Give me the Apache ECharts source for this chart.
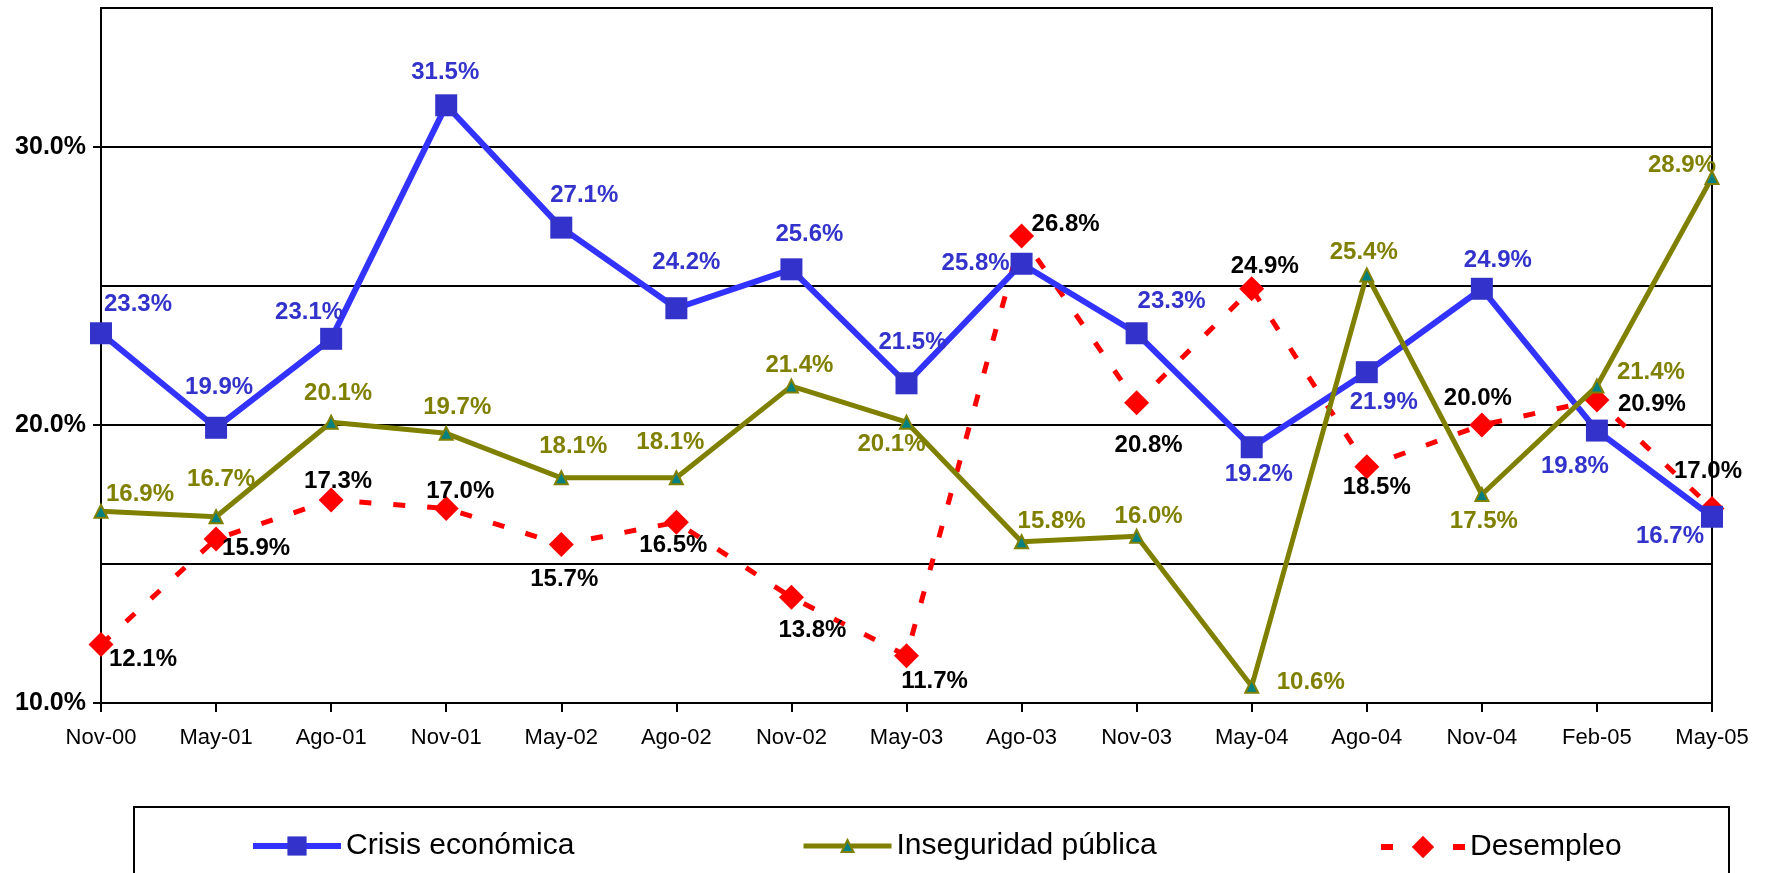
<!DOCTYPE html>
<html>
<head>
<meta charset="utf-8">
<script src="https://cdn.jsdelivr.net/npm/echarts@6/dist/echarts.min.js"></script>
<style>
  html, body { margin: 0; padding: 0; background: #fff; }
  #chart { width: 1771px; height: 873px; }
</style>
</head>
<body>
<div id="chart"></div>
<script>
var categories = ['Nov-00', 'May-01', 'Ago-01', 'Nov-01', 'May-02', 'Ago-02', 'Nov-02', 'May-03',
    'Ago-03', 'Nov-03', 'May-04', 'Ago-04', 'Nov-04', 'Feb-05', 'May-05'];
var crisis = [23.3, 19.9, 23.1, 31.5, 27.1, 24.2, 25.6, 21.5, 25.8, 23.3, 19.2, 21.9, 24.9, 19.8, 16.7];
var inseguridad = [16.9, 16.7, 20.1, 19.7, 18.1, 18.1, 21.4, 20.1, 15.8, 16.0, 10.6, 25.4, 17.5, 21.4, 28.9];
var desempleo = [12.1, 15.9, 17.3, 17.0, 15.7, 16.5, 13.8, 11.7, 26.8, 20.8, 24.9, 18.5, 20.0, 20.9, 17.0];
var yTickLabels = [10, 20, 30];

// where each data label sits relative to its point (px)
var crisisOff = [[37, -29], [3, -40], [-22, -26], [-1, -33], [23, -32], [10, -46], [18, -35], [6, -41],
    [-46, 0], [35, -32], [7, 27], [17, 30], [16, -28], [-22, 36], [-42, 20]];
var insegOff = [[39, -17], [5, -37], [7, -29], [11, -26], [12, -31], [-6, -35], [8, -21], [-15, 22],
    [30, -20], [12, -20], [59, -4], [-3, -23], [2, 27], [54, -14], [-30, -12]];
var desOff = [[42, 15], [40, 9], [7, -19], [14, -17], [3, 35], [-3, 23], [21, 33], [28, 26],
    [44, -12], [12, 43], [13, -22], [10, 21], [-4, -27], [55, 4], [-4, -37]];

var FONT = '"Liberation Sans", Arial, sans-serif';

function withLabels(values, offsets) {
    return values.map(function (v, i) {
        return { value: v, label: { offset: offsets[i] } };
    });
}

function pct(p) {
    return p.value.toFixed(1) + '%';
}

var chart = echarts.init(document.getElementById('chart'), null, { renderer: 'canvas' });

var legendBase = {
    top: 826,
    z: 10,
    itemWidth: 88,
    itemHeight: 24,
    textStyle: { fontFamily: FONT, fontSize: 30, color: '#000' }
};

var option = {
    backgroundColor: '#fff',
    animation: false,
    textStyle: { fontFamily: FONT },
    grid: {
        left: 101,
        right: 59,
        top: 8,
        bottom: 170,
        show: true,
        borderColor: '#000',
        borderWidth: 2
    },
    graphic: [{
        type: 'rect',
        z: 0,
        shape: { x: 134, y: 807, width: 1595, height: 120 },
        style: { fill: '#fff', stroke: '#000', lineWidth: 2 }
    }],
    legend: [
        Object.assign({}, legendBase, {
            data: ['Crisis económica'], left: 245,
            lineStyle: { width: 6 }
        }),
        Object.assign({}, legendBase, {
            data: ['Inseguridad pública'], left: 796, itemHeight: 15,
            lineStyle: { width: 5 }
        }),
        Object.assign({}, legendBase, {
            data: ['Desempleo'], left: 1373, top: 827, itemWidth: 84, itemHeight: 28,
            lineStyle: { width: 6, type: [12, 60] }
        })
    ],
    xAxis: {
        type: 'category',
        data: categories,
        boundaryGap: false,
        axisLine: { lineStyle: { color: '#000', width: 2 } },
        axisTick: { show: true, length: 9, lineStyle: { color: '#000', width: 2 } },
        axisLabel: { color: '#000', fontSize: 22, margin: 24, fontFamily: FONT }
    },
    yAxis: [
        {
            type: 'value',
            min: 10,
            max: 35,
            interval: 5,
            axisLine: { show: true, lineStyle: { color: '#000', width: 2 } },
            axisTick: { show: false },
            axisLabel: {
                color: '#000', fontSize: 25, fontWeight: 'bold', margin: 15, fontFamily: FONT,
                formatter: function (v) {
                    return yTickLabels.indexOf(v) >= 0 ? v.toFixed(1) + '%' : '';
                }
            },
            splitLine: { show: true, lineStyle: { color: '#000', width: 2 } }
        },
        {
            // tick marks only at the labelled values
            type: 'value',
            position: 'left',
            min: 10,
            max: 35,
            interval: 5,
            axisLine: { show: false },
            axisTick: { show: true, length: 8, customValues: yTickLabels, lineStyle: { color: '#000', width: 2 } },
            axisLabel: { show: false },
            splitLine: { show: false }
        }
    ],
    series: [
        {
            name: 'Crisis económica',
            type: 'line',
            data: withLabels(crisis, crisisOff),
            symbol: 'rect',
            symbolSize: 22,
            lineStyle: { color: '#3333FF', width: 6 },
            itemStyle: { color: '#3333CC' },
            label: {
                show: true, position: 'inside', color: '#3333CC', fontSize: 24, fontWeight: 'bold',
                fontFamily: FONT, formatter: pct
            },
            z: 3
        },
        {
            name: 'Inseguridad pública',
            type: 'line',
            data: withLabels(inseguridad, insegOff),
            symbol: 'triangle',
            symbolSize: 13,
            lineStyle: { color: '#808000', width: 5 },
            itemStyle: { color: '#008080', borderColor: '#808000', borderWidth: 2 },
            label: {
                show: true, position: 'inside', color: '#808000', fontSize: 24, fontWeight: 'bold',
                fontFamily: FONT, formatter: pct
            },
            z: 4
        },
        {
            name: 'Desempleo',
            type: 'line',
            data: withLabels(desempleo, desOff),
            symbol: 'diamond',
            symbolSize: 25,
            lineStyle: { color: '#FF0000', width: 5, type: [12, 22] },
            itemStyle: { color: '#FF0000' },
            label: {
                show: true, position: 'inside', color: '#000', fontSize: 24, fontWeight: 'bold',
                fontFamily: FONT, formatter: pct
            },
            z: 2
        }
    ]
};

option && chart.setOption(option);
window.addEventListener('resize', function () {
    chart.resize();
});
</script>
</body>
</html>
